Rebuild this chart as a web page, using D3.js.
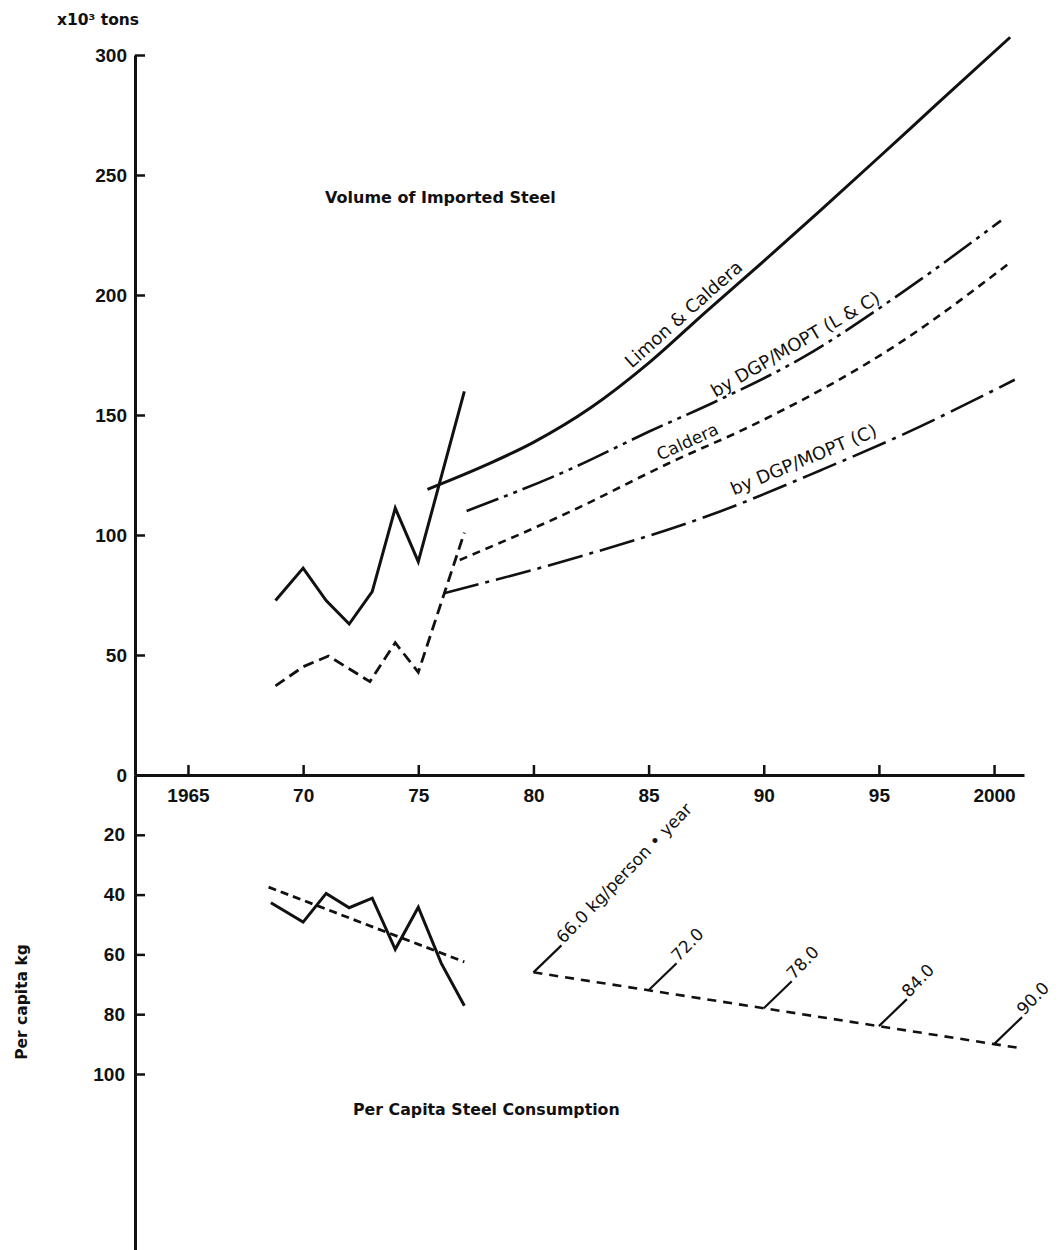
<!DOCTYPE html>
<html>
<head>
<meta charset="utf-8">
<script src="https://cdn.jsdelivr.net/npm/d3@7"></script>
<style>
  body { margin: 0; background: #fff; }
  svg { display: block; }
  .axis path, .axis line { stroke: #111; }
  .axis text { font-family: "Liberation Sans", Arial, sans-serif; font-weight: bold; font-size: 19px; fill: #111; }
</style>
</head>
<body>
<svg id="chart" width="1059" height="1250"></svg>
<script>
// Shared time axis
const yearTicks = [1965, 1970, 1975, 1980, 1985, 1990, 1995, 2000];
const yearTickLabels = ["1965", "70", "75", "80", "85", "90", "95", "2000"];
const volumeTicks = [0, 50, 100, 150, 200, 250, 300];
const perCapitaTicks = [20, 40, 60, 80, 100];

// Recorded imports, 10^3 tons
const importYears = [1968.8, 1970, 1971, 1972, 1973, 1974, 1975, 1977];
const importTotal = [72.7, 86.2, 72.7, 62.9, 76.4, 111.2, 88.9, 159.8];
const calderaYears = [1968.8, 1970, 1971.1, 1972.9, 1974, 1975, 1977];
const calderaActual = [37.1, 45.1, 49.6, 38.9, 55.1, 42.8, 101];

// Projected imports, 10^3 tons
const projLimonYears = [1975.4, 1978, 1980, 1982.5, 1985, 1987.5, 1990, 1992.5, 1995, 1997.5, 2000.7];
const projLimon = [119, 129.4, 138.6, 153.1, 171.6, 193.1, 214.1, 235.6, 257.4, 279.4, 307.4];
const projDgpLCYears = [1977.1, 1981.5, 1985, 1988, 1991.7, 1996, 2000.3];
const projDgpLC = [110, 127, 143, 156, 174, 201, 231];
const projCalderaYears = [1976.8, 1981.5, 1985.9, 1989.7, 1996.1, 2000.6];
const projCaldera = [89.6, 109.3, 130, 146.6, 181.3, 212.8];
const projDgpCYears = [1976.1, 1981.5, 1988.1, 1992.5, 1996, 2000.9];
const projDgpC = [75.7, 89.6, 109.8, 127.1, 141.7, 164.7];

// Per capita consumption, kg
const perCapitaYears = [1968.6, 1970, 1971, 1972, 1973, 1974, 1975, 1976, 1977];
const perCapita = [42.7, 49.2, 39.6, 44.4, 41.2, 58.3, 44.2, 63.0, 77.2];
const perCapitaTrendYears = [1968.5, 1977];
const perCapitaTrend = [37.5, 62.5];
const perCapitaProjYears = [1980, 1985, 1990, 1995, 2000, 2001.1];
const perCapitaProj = [66.0, 72.0, 78.0, 84.0, 90.0, 91.3];
const perCapitaProjLabels = ["66.0 kg/person \u2022 year", "72.0", "78.0", "84.0", "90.0"];

const svg = d3.select("#chart");
const ink = "#111";
const textFont = '"DejaVu Sans", Verdana, sans-serif';

const x = d3.scaleLinear().domain([1962.7, 2001.3]).range([135, 1024]);
const yVol = d3.scaleLinear().domain([0, 300]).range([775, 55]);
const yPc = d3.scaleLinear().domain([0, 160]).range([775, 1253.4]);

// Axes
svg.append("g").attr("class", "axis")
  .attr("transform", `translate(0,${yVol(0)})`)
  .call(d3.axisBottom(x).tickValues(yearTicks)
    .tickFormat((d, i) => yearTickLabels[i])
    .tickSizeInner(-10).tickSizeOuter(0).tickPadding(14));

svg.append("g").attr("class", "axis")
  .attr("transform", `translate(${x.range()[0]},0)`)
  .call(d3.axisLeft(yVol).tickValues(volumeTicks)
    .tickSizeInner(-10).tickSizeOuter(0).tickPadding(8));

svg.append("g").attr("class", "axis")
  .attr("transform", `translate(${x.range()[0]},0)`)
  .call(d3.axisLeft(yPc).tickValues(perCapitaTicks)
    .tickSizeInner(-10).tickSizeOuter(0).tickPadding(10));

svg.selectAll(".axis .domain").attr("stroke-width", 3);
svg.selectAll(".axis .tick line").attr("stroke-width", 2.5);

// Line helpers
function zipSeries(xs, ys) { return xs.map((t, i) => [t, ys[i]]); }
function drawLine(xs, ys, yScale, dash, width, curve) {
  const gen = d3.line().x(d => x(d[0])).y(d => yScale(d[1])).curve(curve || d3.curveLinear);
  svg.append("path")
    .datum(zipSeries(xs, ys))
    .attr("d", gen)
    .attr("fill", "none")
    .attr("stroke", ink)
    .attr("stroke-width", width)
    .attr("stroke-linejoin", "miter")
    .attr("stroke-dasharray", dash ? dash.join(",") : null);
}

// Recorded imports
drawLine(importYears, importTotal, yVol, null, 3);
drawLine(calderaYears, calderaActual, yVol, [11, 6], 2.8);

// Projections
drawLine(projLimonYears, projLimon, yVol, null, 3, d3.curveMonotoneX);
drawLine(projDgpLCYears, projDgpLC, yVol, [34, 6, 4, 6, 4, 6], 2.6, d3.curveMonotoneX);
drawLine(projCalderaYears, projCaldera, yVol, [8, 6], 2.6, d3.curveMonotoneX);
drawLine(projDgpCYears, projDgpC, yVol, [36, 7, 4, 7], 2.6, d3.curveMonotoneX);

// Per capita
drawLine(perCapitaYears, perCapita, yPc, null, 3);
drawLine(perCapitaTrendYears, perCapitaTrend, yPc, [8, 5], 2.8);
drawLine(perCapitaProjYears, perCapitaProj, yPc, [9, 7], 2.6);

// Labels that follow a projection line
function labelAlong(xs, ys, yScale, t, text, offset, size) {
  const interp = d3.scaleLinear().domain(xs).range(ys);
  const x1 = x(t - 1), y1 = yScale(interp(t - 1));
  const x2 = x(t + 1), y2 = yScale(interp(t + 1));
  const angle = Math.atan2(y2 - y1, x2 - x1) * 180 / Math.PI;
  svg.append("text")
    .attr("transform", `translate(${x(t)},${yScale(interp(t))}) rotate(${angle})`)
    .attr("x", 0).attr("y", -offset)
    .attr("text-anchor", "middle")
    .attr("font-family", textFont)
    .attr("font-size", size)
    .attr("fill", ink)
    .text(text);
}
labelAlong(projLimonYears, projLimon, yVol, 1986.9, "Limon & Caldera", 7, 18);
labelAlong(projDgpLCYears, projDgpLC, yVol, 1991.7, "by DGP/MOPT (L & C)", 9, 18);
labelAlong(projCalderaYears, projCaldera, yVol, 1986.9, "Caldera", 6, 17);
labelAlong(projDgpCYears, projDgpC, yVol, 1992.0, "by DGP/MOPT (C)", 10, 18);

// Per capita projection leaders and values
perCapitaProjLabels.forEach((lab, i) => {
  const px = x(perCapitaProjYears[i]), py = yPc(perCapitaProj[i]);
  svg.append("line")
    .attr("x1", px).attr("y1", py)
    .attr("x2", px + 28).attr("y2", py - 27)
    .attr("stroke", ink).attr("stroke-width", 2.2);
  svg.append("text")
    .attr("transform", `translate(${px + 30},${py - 28}) rotate(-46)`)
    .attr("font-family", textFont)
    .attr("font-size", 17)
    .attr("fill", ink)
    .text(lab);
});

// Titles and units
svg.append("text")
  .attr("x", 57).attr("y", 25)
  .attr("font-family", textFont).attr("font-weight", "bold").attr("font-size", 15.5)
  .attr("fill", ink)
  .text("x10\u00b3  tons");

svg.append("text")
  .attr("x", 325).attr("y", 203)
  .attr("font-family", textFont).attr("font-weight", "bold").attr("font-size", 16)
  .attr("fill", ink)
  .text("Volume of Imported Steel");

svg.append("text")
  .attr("x", 353).attr("y", 1115)
  .attr("font-family", textFont).attr("font-weight", "bold").attr("font-size", 15.8)
  .attr("fill", ink)
  .text("Per Capita Steel Consumption");

svg.append("text")
  .attr("transform", "translate(27,1002) rotate(-90)")
  .attr("text-anchor", "middle")
  .attr("font-family", textFont).attr("font-weight", "bold").attr("font-size", 15.5)
  .attr("fill", ink)
  .text("Per capita kg");
</script>
</body>
</html>
